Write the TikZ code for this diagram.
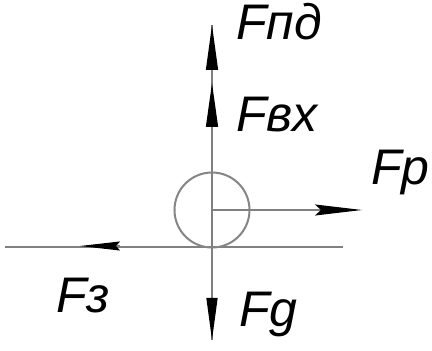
\documentclass[tikz,border=0pt]{standalone}
\usepackage{fontspec}
\setmainfont{Liberation Sans}
\usetikzlibrary{arrows.meta}
\begin{document}
\begin{tikzpicture}[x=1pt,y=1pt,
  axis/.style={draw=black!50, line width=1.3pt},
  ring/.style={draw=black!48, line width=2pt},
  force/.style={draw=black!50, line width=1.3pt},
  lbl/.style={font=\fontsize{50}{50}\selectfont\itshape, inner sep=0pt, anchor=base west}]
\useasboundingbox (0,0) rectangle (432,351);
% key points
\coordinate (O) at (212,141);
\coordinate (C) at (212,104);
\coordinate (top) at (212,326);
\coordinate (vxtip) at (212,268);
\coordinate (vxbase) at (212,224);
\coordinate (pdbase) at (212,281);
\coordinate (bot) at (212,11);
\coordinate (gl) at (5,104);
\coordinate (gr) at (343,104);
\coordinate (ptip) at (362,141);
\coordinate (ztip) at (80,105);
\coordinate (zbase) at (120,105);
% ground and axis
\draw[axis] (gl) -- (gr);
\draw[axis] (top) -- (bot);
% wheel
\node[ring, circle, minimum size=75pt, inner sep=0pt] (wheel) at (O) {};
% forces
\draw[force, -{Triangle[length=45pt,width=12pt,color=black,fill=black]}] (pdbase) -- (top);
\draw[force, -{Triangle[length=44pt,width=12pt,color=black,fill=black]}] (vxbase) -- (vxtip);
\draw[force, -{Stealth[length=47pt,width=11pt,inset=6pt,color=black,fill=black]}] (O) -- (ptip);
\draw[force, -{Stealth[length=40pt,width=9pt,inset=4pt,color=black,fill=black]}] (zbase) -- (ztip);
\draw[force, -{Triangle[length=42pt,width=11pt,color=black,fill=black]}] (C) -- (bot);
% labels
\node[lbl] (Fpd) at (236,311) {Fпд};
\node[lbl] (Fvx) at (236,219) {Fвх};
\node[lbl] (Fr) at (371,166) {Fр};
\node[lbl] (Fz) at (56,38) {Fз};
\node[lbl] (Fg) at (239,24) {Fg};
\end{tikzpicture}
\end{document}
